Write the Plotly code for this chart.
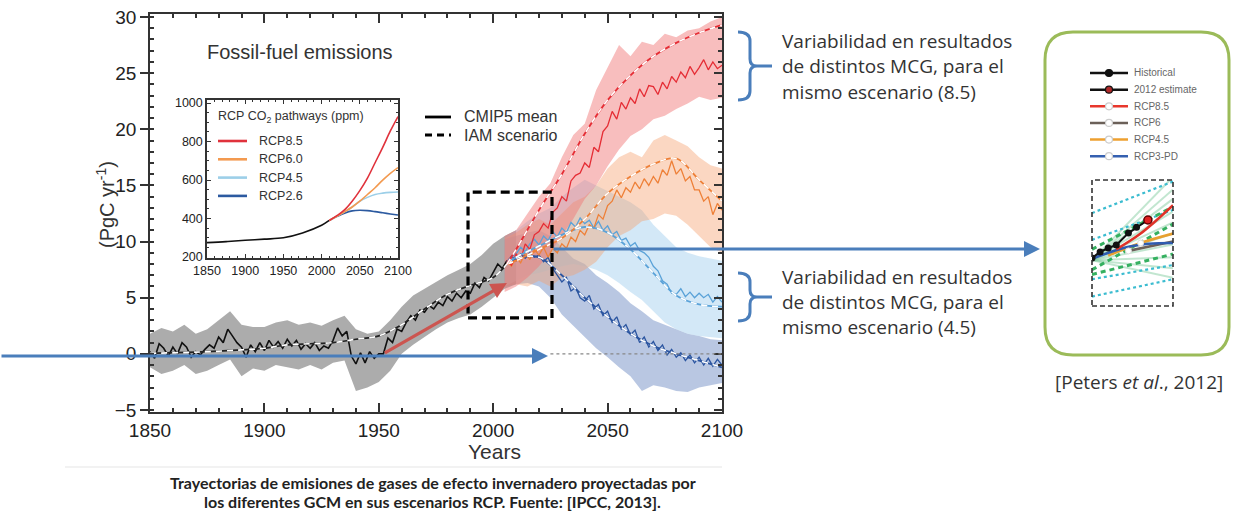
import plotly.graph_objects as go

W, H = 1234, 511
def X(p): return p / W
def Y(p): return 1 - p / H

# ------------------------------------------------------------------ data
hist_years = list(range(1850, 2007, 2))
hist_mean = [0.2, -0.4, 0.9, 0.5, -0.2, 0.6, 0.0, 1.0, 0.6, -0.3,
             0.2, -0.1, 0.4, 0.8, 0.5, 1.5, 1.0, 2.2, 1.6, 1.0,
             0.6, -0.3, 0.8, 0.2, 1.0, 0.3, 1.2, 0.6, 1.1, 0.5,
             1.3, 0.7, 1.2, 0.4, 0.9, 0.5, 1.0, 0.3, 0.7, 0.5,
             1.2, 2.3, 1.6, 2.0, -0.2, -0.9, 0.1, -0.8, 0.2, -0.4,
             0.0, 0.0, 1.4, 1.0, 2.2, 2.0, 2.8, 3.4, 3.0, 3.9,
             3.7, 4.3, 4.0, 4.6, 4.3, 5.1, 4.7, 5.4, 5.0, 5.6,
             5.4, 6.3, 5.9, 6.8, 6.5, 7.2, 8.0, 7.6, 8.3]
hist_band_years = list(range(1850, 2011, 5))
hist_upper = [1.8, 2.3, 2.0, 2.6, 1.8, 2.2, 3.0, 3.8, 2.6, 2.4, 2.4, 2.8, 3.0, 2.6, 2.8, 2.5,
              3.0, 3.4, 2.2, 1.8, 2.0, 3.0, 4.2, 5.2, 5.8, 6.4, 7.0, 7.5, 8.0, 8.8, 9.8, 10.5, 11.0]
hist_lower = [-1.2, -1.8, -1.5, -1.0, -1.8, -1.5, -1.0, -0.5, -2.0, -1.3, -1.5, -1.0, -1.2, -1.4, -1.0, -1.4,
              -0.8, -0.6, -3.3, -3.0, -2.5, -1.5, 0.0, 0.8, 1.5, 2.2, 2.8, 3.2, 3.5, 4.2, 5.0, 5.8, 6.2]
obs_years = [1850, 1870, 1890, 1900, 1910, 1920, 1930, 1940, 1950, 1960, 1970, 1980, 1990, 2000, 2006]
obs_emis = [0.05, 0.15, 0.35, 0.5, 0.8, 0.9, 1.0, 1.3, 1.6, 2.6, 4.0, 5.3, 6.1, 6.8, 8.0]

scen_years = list(range(2006, 2101, 2))
rcp85_mean = [8.3, 7.9, 8.9, 8.4, 9.8, 9.3, 10.6, 10.9, 11.6, 11.2,
              12.6, 13.0, 14.0, 13.6, 15.4, 15.9, 16.1, 17.0, 16.6, 18.4,
              18.0, 19.8, 20.3, 21.6, 20.9, 22.4, 21.8, 22.8, 22.3, 23.6,
              22.9, 23.9, 23.8, 23.1, 24.2, 23.6, 24.7, 24.2, 25.1, 24.6,
              25.6, 24.9, 25.5, 26.2, 25.3, 26.0, 25.4, 25.7]
rcp60_mean = [8.2, 7.8, 8.6, 8.1, 9.0, 8.4, 9.3, 8.8, 9.5, 8.6,
              9.4, 9.0, 9.8, 9.4, 10.4, 10.0, 11.0, 10.6, 11.5, 11.2,
              12.4, 12.0, 13.2, 13.6, 14.6, 13.9, 14.8, 14.4, 15.3, 14.7,
              15.6, 15.0, 15.8, 15.2, 16.4, 15.9, 17.2, 16.0, 16.5, 15.4,
              15.8, 14.6, 14.6, 13.6, 14.0, 12.4, 13.4, 12.8]
rcp45_mean = [8.2, 8.6, 8.9, 9.5, 9.1, 9.8, 10.2, 9.7, 10.5, 10.1,
              10.9, 10.4, 11.2, 10.8, 11.7, 11.3, 12.1, 11.6, 11.9, 11.2,
              11.8, 11.0, 11.4, 10.6, 10.9, 10.1, 10.3, 9.6, 9.9, 9.2,
              9.0, 8.6, 7.8, 7.4, 6.5, 6.2, 5.4, 5.3, 5.8, 5.1,
              5.5, 5.0, 5.4, 5.0, 5.3, 4.6, 5.1, 4.6]
rcp26_mean = [8.2, 8.7, 8.3, 8.9, 8.5, 9.0, 8.6, 8.8, 8.2, 8.6,
              7.6, 7.0, 6.4, 6.8, 5.6, 5.9, 5.0, 4.7, 5.2, 4.0,
              4.4, 3.4, 3.8, 2.8, 3.3, 2.2, 2.6, 1.7, 2.1, 1.0,
              1.5, 0.6, 1.1, 0.3, 0.8, -0.1, 0.4, -0.3, 0.1, -0.6,
              -0.1, -0.8, -0.3, -1.0, -0.4, -1.1, -0.5, -1.0]

band_years = [2005] + list(range(2010, 2101, 5))
rcp85_upper = [10.5, 11.0, 12.5, 14.0, 15.2, 17.5, 19.5, 20.5, 23.5, 25.5, 27.5, 26.5, 27.8, 27.5, 28.5, 28.2, 28.8, 29.0, 29.6, 30.0]
rcp85_lower = [5.5, 6.0, 6.8, 7.8, 9.0, 10.5, 12.0, 13.8, 15.0, 16.7, 18.2, 19.4, 20.0, 20.9, 21.2, 21.8, 22.3, 22.9, 22.6, 22.8]
rcp60_upper = [10.3, 10.8, 11.5, 12.0, 11.5, 12.5, 13.5, 14.0, 15.0, 16.5, 17.5, 18.0, 17.5, 19.0, 19.5, 19.0, 18.5, 17.5, 16.8, 16.5]
rcp60_lower = [6.0, 6.2, 6.0, 6.5, 6.0, 6.8, 7.0, 7.5, 8.2, 9.5, 10.5, 11.0, 11.8, 12.0, 12.5, 12.3, 11.5, 10.5, 9.5, 9.0]
rcp45_upper = [10.3, 11.0, 11.8, 12.5, 13.0, 14.0, 14.8, 15.5, 15.0, 14.5, 14.0, 13.5, 12.8, 11.5, 10.5, 9.5, 9.0, 8.7, 8.5, 8.3]
rcp45_lower = [6.0, 6.5, 7.0, 7.2, 7.5, 7.8, 8.0, 7.8, 7.5, 7.0, 6.3, 5.5, 4.8, 3.8, 2.8, 2.2, 1.8, 1.6, 1.5, 1.4]
rcp26_upper = [10.2, 10.5, 10.8, 11.0, 10.5, 9.5, 8.5, 8.0, 7.0, 6.3, 5.5, 4.5, 3.8, 3.0, 2.6, 2.2, 1.8, 1.6, 1.3, 1.2]
rcp26_lower = [6.0, 6.2, 6.3, 6.0, 5.0, 3.5, 2.5, 1.5, 0.5, -0.3, -1.2, -2.0, -3.3, -2.8, -3.0, -3.3, -3.4, -3.0, -2.8, -2.6]

iam_years = [2006] + list(range(2010, 2101, 10))
rcp85_iam = [8.0, 9.3, 12.8, 16.0, 19.6, 22.6, 24.8, 26.5, 27.7, 28.6, 29.3]
rcp60_iam = [8.0, 8.3, 9.3, 10.3, 12.0, 14.3, 15.8, 16.9, 17.4, 15.5, 13.6]
rcp45_iam = [8.0, 8.6, 9.6, 10.6, 11.3, 10.8, 9.3, 7.2, 5.2, 4.4, 4.2]
rcp26_iam = [8.0, 8.5, 8.6, 7.0, 5.0, 3.3, 1.8, 0.7, 0.0, -0.6, -1.2]

# inset: CO2 pathways (ppm)
ins_hist_years = [1850, 1875, 1900, 1925, 1950, 1975, 2000, 2010]
ins_hist_ppm = [275, 280, 287, 293, 300, 325, 365, 390]
ins_years = [2010, 2020, 2030, 2040, 2050, 2060, 2070, 2080, 2090, 2100]
ins_rcp85 = [390, 415, 445, 490, 545, 610, 690, 770, 855, 930]
ins_rcp60 = [390, 412, 435, 460, 490, 525, 560, 600, 635, 665]
ins_rcp45 = [390, 412, 435, 460, 490, 510, 525, 532, 536, 538]
ins_rcp26 = [390, 410, 428, 440, 443, 441, 436, 430, 424, 418]
ins_labels = ["RCP8.5", "RCP6.0", "RCP4.5", "RCP2.6"]

# arrows / box in data units
red_arrow_start = (1952, 0.0)
red_arrow_end = (2006, 6.3)
zoom_box = (1989, 2025.7, 3.2, 14.4)

# Peters et al. mini panel
mini_labels = ["Historical", "2012 estimate", "RCP8.5", "RCP6", "RCP4.5", "RCP3-PD"]
mini_hist_x = [2000, 2002, 2004, 2006, 2009, 2011]
mini_hist_y = [7.05, 7.43, 7.68, 7.87, 8.63, 9.0]
mini_est_x = [2013.8]
mini_est_y = [9.46]
mini_rcp85_x = [2006, 2012, 2020]; mini_rcp85_y = [7.6, 8.6, 10.4]
mini_rcp6_x = [2009, 2020]; mini_rcp6_y = [7.5, 8.1]
mini_rcp45_x = [2004, 2012, 2020]; mini_rcp45_y = [7.2, 8.0, 8.6]
mini_rcp3_x = [2000, 2008, 2014, 2020]; mini_rcp3_y = [7.0, 7.7, 7.95, 8.0]
mini_fan_end = [12.2, 11.4, 10.8, 10.0, 9.3, 8.6, 7.9, 7.1, 6.4, 5.8]
mini_fan_start = 6.9
mini_dot_lines = [(9.9, 11.9), (8.2, 10.1), (5.7, 6.6), (4.6, 5.7)]
mini_dash_lines = [(6.3, 9.2), (6.0, 7.3), (7.6, 10.3)]

# ------------------------------------------------------------------ styles
FONT = "Liberation Sans"
scen = [
    dict(mean=rcp26_mean, up=rcp26_upper, lo=rcp26_lower, iam=rcp26_iam,
         line="#2b55a0", band="rgba(100,130,190,0.45)"),
    dict(mean=rcp45_mean, up=rcp45_upper, lo=rcp45_lower, iam=rcp45_iam,
         line="#5aa2d8", band="rgba(150,200,235,0.42)"),
    dict(mean=rcp60_mean, up=rcp60_upper, lo=rcp60_lower, iam=rcp60_iam,
         line="#ee8038", band="rgba(245,160,110,0.42)"),
    dict(mean=rcp85_mean, up=rcp85_upper, lo=rcp85_lower, iam=rcp85_iam,
         line="#e52d35", band="rgba(240,120,120,0.48)"),
]
ins_colors = ["#e0323c", "#f39a50", "#9ccfe8", "#2c5aa0"]

fig = go.Figure()

# --- main panel bands
fig.add_trace(go.Scatter(x=hist_band_years + hist_band_years[::-1], y=hist_upper + hist_lower[::-1],
                         fill="toself", fillcolor="rgba(140,140,140,0.72)", line=dict(width=0),
                         hoverinfo="skip"))
for s in scen:
    fig.add_trace(go.Scatter(x=band_years + band_years[::-1], y=s["up"] + s["lo"][::-1],
                             fill="toself", fillcolor=s["band"], line=dict(width=0), hoverinfo="skip"))
# historical
fig.add_trace(go.Scatter(x=hist_years, y=hist_mean, mode="lines", line=dict(color="#111", width=1.6)))
fig.add_trace(go.Scatter(x=obs_years, y=obs_emis, mode="lines", line=dict(color="#222", width=1.7, shape="spline")))
fig.add_trace(go.Scatter(x=obs_years, y=obs_emis, mode="lines",
                         line=dict(color="white", width=1.7, dash="6px,5px", shape="spline")))
for s in scen:
    fig.add_trace(go.Scatter(x=scen_years, y=s["mean"], mode="lines", line=dict(color=s["line"], width=1.3)))
for s in scen:
    fig.add_trace(go.Scatter(x=iam_years, y=s["iam"], mode="lines",
                             line=dict(color=s["line"], width=1.8, shape="spline")))
    fig.add_trace(go.Scatter(x=iam_years, y=s["iam"], mode="lines",
                             line=dict(color="white", width=1.6, dash="6px,5px", shape="spline")))

# --- inset
fig.add_trace(go.Scatter(x=ins_hist_years, y=ins_hist_ppm, mode="lines", xaxis="x2", yaxis="y2",
                         line=dict(color="#111", width=1.6, shape="spline")))
for ys, c in zip([ins_rcp26, ins_rcp45, ins_rcp60, ins_rcp85], ins_colors[::-1]):
    fig.add_trace(go.Scatter(x=ins_years, y=ys, mode="lines", xaxis="x2", yaxis="y2",
                             line=dict(color=c, width=1.6, shape="spline")))

# --- mini panel (Peters et al.)
for e in mini_fan_end:
    fig.add_trace(go.Scatter(x=[2000, 2020], y=[mini_fan_start, e], mode="lines", xaxis="x3", yaxis="y3",
                             line=dict(color="rgba(120,200,150,0.45)", width=2)))
for a, b in mini_dot_lines:
    fig.add_trace(go.Scatter(x=[2000, 2020], y=[a, b], mode="lines", xaxis="x3", yaxis="y3",
                             line=dict(color="#3bbcd0", width=2.2, dash="dot")))
for a, b in mini_dash_lines:
    fig.add_trace(go.Scatter(x=[2000, 2020], y=[a, b], mode="lines", xaxis="x3", yaxis="y3",
                             line=dict(color="#35b060", width=3, dash="5px,4px")))
for xs, ys, c in [(mini_rcp6_x, mini_rcp6_y, "#6b6058"), (mini_rcp45_x, mini_rcp45_y, "#e8a030"),
                  (mini_rcp3_x, mini_rcp3_y, "#2f5cb0"), (mini_rcp85_x, mini_rcp85_y, "#e03228")]:
    fig.add_trace(go.Scatter(x=xs, y=ys, mode="lines", xaxis="x3", yaxis="y3",
                             line=dict(color=c, width=2.6, shape="spline")))
fig.add_trace(go.Scatter(x=[mini_rcp6_x[0], mini_rcp45_x[1]], y=[mini_rcp6_y[0], mini_rcp45_y[1]],
                         mode="markers", xaxis="x3", yaxis="y3",
                         marker=dict(color="white", size=6, line=dict(color="#ddd", width=1))))
fig.add_trace(go.Scatter(x=mini_hist_x + mini_est_x, y=mini_hist_y + mini_est_y, mode="lines+markers",
                         xaxis="x3", yaxis="y3", line=dict(color="#111", width=2),
                         marker=dict(color="#111", size=7)))
fig.add_trace(go.Scatter(x=mini_est_x, y=mini_est_y, mode="markers", xaxis="x3", yaxis="y3",
                         marker=dict(color="#e02020", size=8, line=dict(color="#600", width=1.5))))

# mini legend (rows drawn on their own axes)
leg_colors = ["#111", "#111", "#e8372c", "#6b6058", "#eea030", "#3560b0"]
leg_fill = ["#111", "#b02a2a", "white", "white", "white", "white"]
for i, (c, f) in enumerate(zip(leg_colors, leg_fill)):
    r = i + 1
    fig.add_trace(go.Scatter(x=[0, 1], y=[r, r], mode="lines", xaxis="x4", yaxis="y4",
                             line=dict(color=c, width=2.5)))
    fig.add_trace(go.Scatter(x=[0.5], y=[r], mode="markers", xaxis="x4", yaxis="y4",
                             marker=dict(color=f, size=7, line=dict(color=c if i < 2 else "#ccc", width=1.2))))

# right-side tick overlay needs a trace to be drawn
fig.add_trace(go.Scatter(x=[1850], y=[-10], yaxis="y5", mode="markers", marker=dict(opacity=0)))

# ------------------------------------------------------------------ layout
axis_common = dict(showgrid=False, zeroline=False, showline=True, linecolor="#333", linewidth=1.5,
                   tickcolor="#333", automargin=False)
fig.update_layout(
    width=W, height=H, margin=dict(l=0, r=0, t=0, b=0),
    paper_bgcolor="white", plot_bgcolor="white", showlegend=False,
    xaxis=dict(domain=[X(150), X(722)], range=[1850, 2100], tickvals=[1850, 1900, 1950, 2000, 2050, 2100],
               ticks="inside", ticklen=9, tickwidth=1.5, mirror="ticks",
               minor=dict(dtick=10, ticks="inside", ticklen=4, tickcolor="#333"),
               tickfont=dict(family=FONT, size=19, color="#222"), anchor="y", **axis_common),
    yaxis=dict(domain=[Y(412), Y(14)], range=[-5.18, 30.27], tickvals=[-5, 0, 5, 10, 15, 20, 25, 30],
               ticks="outside", ticklen=8, tickwidth=1.5, mirror=True,
               minor=dict(dtick=1, ticks="inside", ticklen=4, tickcolor="#333"),
               tickfont=dict(family=FONT, size=19, color="#222"), anchor="x", **axis_common),
    yaxis5=dict(overlaying="y", side="right", anchor="x", range=[-5.18, 30.27],
                tickvals=[-5, 0, 5, 10, 15, 20, 25, 30], ticks="inside", ticklen=8, tickwidth=1.5,
                tickcolor="#333", showticklabels=False, showgrid=False, zeroline=False, showline=False,
                minor=dict(dtick=1, ticks="inside", ticklen=4, tickcolor="#333")),
    xaxis2=dict(domain=[X(207), X(398)], range=[1850, 2100], tickvals=[1850, 1900, 1950, 2000, 2050, 2100],
                ticks="inside", ticklen=4, mirror="ticks", minor=dict(dtick=10, ticks="inside", ticklen=2),
                tickfont=dict(family=FONT, size=12.5, color="#222"), anchor="y2", **axis_common),
    yaxis2=dict(domain=[Y(258), Y(100)], range=[195, 1016], tickvals=[200, 400, 600, 800, 1000],
                ticks="inside", ticklen=4, mirror="ticks", minor=dict(dtick=50, ticks="inside", ticklen=2),
                tickfont=dict(family=FONT, size=12.5, color="#222"), anchor="x2", **axis_common),
    xaxis3=dict(domain=[X(1092), X(1173)], range=[2000, 2020], visible=False, anchor="y3"),
    yaxis3=dict(domain=[Y(306), Y(180)], range=[4, 12], visible=False, anchor="x3"),
    xaxis4=dict(domain=[X(1090), X(1128)], range=[0, 1], visible=False, anchor="y4"),
    yaxis4=dict(domain=[Y(164.5), Y(64.7)], range=[6.5, 0.5], visible=False, anchor="x4"),
)

# ------------------------------------------------------------------ shapes
def path_px(pts):
    out = []
    for cmd, coords in pts:
        out.append(cmd + " ".join(f"{X(a):.5f},{Y(b):.5f}" for a, b in coords))
    return " ".join(out)

def rounded_rect(x0, y0, x1, y1, r):
    return path_px([("M", [(x0 + r, y0)]), ("L", [(x1 - r, y0)]), ("Q", [(x1, y0), (x1, y0 + r)]),
                    ("L", [(x1, y1 - r)]), ("Q", [(x1, y1), (x1 - r, y1)]), ("L", [(x0 + r, y1)]),
                    ("Q", [(x0, y1), (x0, y1 - r)]), ("L", [(x0, y0 + r)]), ("Q", [(x0, y0), (x0 + r, y0)])]) + " Z"

def bracket(top, mid, bot, xl=738, xv=750, xt=772):
    return path_px([("M", [(xl, top)]), ("Q", [(xv, top), (xv, top + 9)]), ("L", [(xv, mid - 7)]),
                    ("Q", [(xv, mid), (xv + 7, mid)]), ("L", [(xt, mid)]), ("M", [(xv + 7, mid)]),
                    ("Q", [(xv, mid), (xv, mid + 7)]), ("L", [(xv, bot - 9)]), ("Q", [(xv, bot), (xl, bot)])])

BLUE = "#4a7ebb"
shapes = [
    dict(type="line", xref="paper", yref="paper", x0=X(65), x1=X(722), y0=Y(467), y1=Y(467),
         line=dict(color="#eeeeee", width=1.5)),
    dict(type="line", xref="x", yref="y", x0=2025, x1=2100, y0=0, y1=0,
         line=dict(color="#888", width=1.2, dash="dot")),
    dict(type="rect", xref="x", yref="y", x0=zoom_box[0], x1=zoom_box[1], y0=zoom_box[2], y1=zoom_box[3],
         line=dict(color="black", width=3.2, dash="9px,5px")),
    dict(type="path", xref="paper", yref="paper", path=rounded_rect(1045, 32, 1229, 355, 28),
         line=dict(color="#9bbb59", width=3)),
    dict(type="rect", xref="paper", yref="paper", x0=X(1092), x1=X(1173), y0=Y(306), y1=Y(180),
         line=dict(color="#333", width=1.6, dash="5px,3px")),
    dict(type="path", xref="paper", yref="paper", path=bracket(32, 66, 100), line=dict(color=BLUE, width=3)),
    dict(type="path", xref="paper", yref="paper", path=bracket(273, 297, 321), line=dict(color=BLUE, width=3)),
    dict(type="line", xref="paper", yref="paper", x0=X(425), x1=X(451), y0=Y(117), y1=Y(117),
         line=dict(color="black", width=2.8)),
    dict(type="line", xref="paper", yref="paper", x0=X(425), x1=X(451), y0=Y(135), y1=Y(135),
         line=dict(color="black", width=2.8, dash="7px,5px")),
]
for i, c in enumerate(ins_colors):
    yy = 141 + i * 18.3
    shapes.append(dict(type="line", xref="paper", yref="paper", x0=X(218), x1=X(247), y0=Y(yy), y1=Y(yy),
                       line=dict(color=c, width=2.6)))
fig.update_layout(shapes=shapes)

# ------------------------------------------------------------------ annotations
ann = []
def txt(t, x, y, size, family=FONT, color="#222", xanchor="left", **kw):
    ann.append(dict(text=t, x=X(x), y=Y(y), xref="paper", yref="paper", showarrow=False,
                    xanchor=xanchor, yanchor="middle", font=dict(family=family, size=size, color=color), **kw))

txt("Fossil-fuel emissions", 205, 52, 20, color="#333")
txt("CMIP5 mean", 462, 117, 16, color="#333")
txt("IAM scenario", 462, 135, 16, color="#333")
txt("RCP CO<sub>2</sub> pathways (ppm)", 216, 117, 12.5, color="#333")
for i, l in enumerate(ins_labels):
    txt(l, 257, 141 + i * 18.3, 12.5, color="#333")
txt("Years", 494, 451, 21, xanchor="center", color="#333")
txt("(PgC yr<sup>-1</sup>)", 106, 205, 20, xanchor="center", color="#333", textangle=-90)

SANS = "Open Sans"
for i, l in enumerate(["Variabilidad en resultados", "de distintos MCG, para el", "mismo escenario (8.5)"]):
    txt(l, 780, 41 + i * 25.5, 19, family=SANS, color="#333")
for i, l in enumerate(["Variabilidad en resultados", "de distintos MCG, para el", "mismo escenario (4.5)"]):
    txt(l, 780, 277 + i * 25, 19, family=SANS, color="#333")
txt("[Peters <i>et al</i>., 2012]", 1139, 382, 19, family=SANS, color="#333", xanchor="center")
txt("<b>Trayectorias de emisiones de gases de efecto invernadero proyectadas por</b>", 433, 482, 16,
    family="Lato", color="#222", xanchor="center")
txt("<b>los diferentes GCM en sus escenarios RCP. Fuente: [IPCC, 2013].</b>", 433, 501, 16,
    family="Lato", color="#222", xanchor="center")
for i, l in enumerate(mini_labels):
    txt(l, 1132, 73 + i * 16.6, 10, color="#666")

# arrows
ann.append(dict(x=X(548), y=Y(356), xref="paper", yref="paper", ax=-548, ay=0, text="", showarrow=True,
                arrowhead=2, arrowsize=1, arrowwidth=3.2, arrowcolor=BLUE))
ann.append(dict(x=X(1040), y=Y(249), xref="paper", yref="paper", ax=-488, ay=0, text="", showarrow=True,
                arrowhead=2, arrowsize=1, arrowwidth=3.2, arrowcolor=BLUE))
ann.append(dict(x=red_arrow_end[0], y=red_arrow_end[1], xref="x", yref="y",
                ax=red_arrow_start[0], ay=red_arrow_start[1], axref="x", ayref="y", text="", showarrow=True,
                arrowhead=2, arrowsize=1, arrowwidth=3.2, arrowcolor="#cc5550"))
fig.update_layout(annotations=ann)

fig.write_html("out.html", config={"displayModeBar": False},
               post_script="document.body.style.margin='0';document.body.style.overflow='hidden';")
